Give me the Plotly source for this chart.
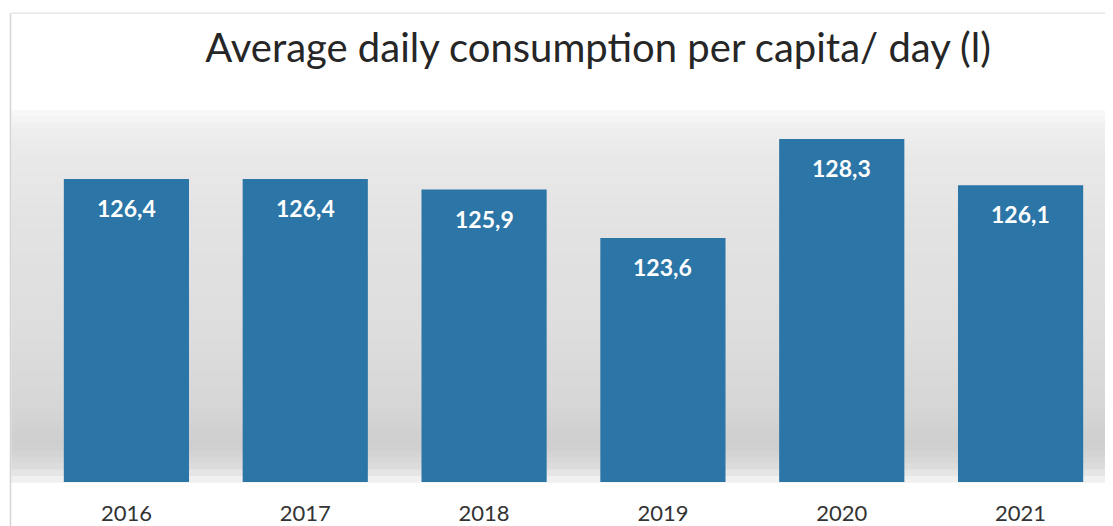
import plotly.graph_objects as go

years = ["2016", "2017", "2018", "2019", "2020", "2021"]
values = [126.4, 126.4, 125.9, 123.6, 128.3, 126.1]
labels = ["126,4", "126,4", "125,9", "123,6", "128,3", "126,1"]
title_text = "Average daily consumption per capita/ day (l)"

BAR_COLOR = "#2b75a7"

fig = go.Figure()
fig.add_trace(go.Bar(
    x=years, y=values, marker=dict(color=BAR_COLOR, line=dict(width=0)),
    hoverinfo="x+y", showlegend=False,
))

for i, (v, lab) in enumerate(zip(values, labels)):
    fig.add_annotation(x=i, y=v, text=lab, showarrow=False, yanchor="middle",
                       yshift=-29, font=dict(family="Lato", size=23, color="white", weight="bold"))

# background gradient bands (plot area)
stops = [(0.0, 250), (0.04, 240), (0.12, 233), (0.3, 227), (0.6, 221),
         (0.8, 214), (0.9, 206), (0.96, 220), (1.0, 245)]

def shade(t):
    for (a, ca), (b, cb) in zip(stops[:-1], stops[1:]):
        if a <= t <= b:
            f = (t - a) / (b - a) if b > a else 0
            return int(round(ca + (cb - ca) * f))
    return stops[-1][1]

n = 60
shapes = []
for i in range(n):
    y0 = 1 - i / n
    y1 = 1 - (i + 1) / n
    c = shade((i + 0.5) / n)
    shapes.append(dict(type="rect", xref="paper", yref="paper", x0=-0.024, x1=1.0,
                       y0=y1 - 0.002, y1=y0, fillcolor=f"rgb({c},{c},{c})",
                       line=dict(width=0), layer="below"))
# frame lines
shapes.append(dict(type="line", xref="paper", yref="paper", x0=-0.0247, x1=-0.0247,
                   y0=-0.12, y1=1.26, line=dict(color="#d4d4d4", width=1.5)))
shapes.append(dict(type="line", xref="paper", yref="paper", x0=-0.0247, x1=1.0,
                   y0=1.26, y1=1.26, line=dict(color="#e8e8e8", width=1.5)))

fig.update_layout(
    width=1105, height=518,
    margin=dict(l=28.5, r=2.5, t=102, b=44),
    paper_bgcolor="white", plot_bgcolor="rgba(0,0,0,0)",
    bargap=0.3,
    shapes=shapes,
    title=dict(text=title_text, x=0.534, xanchor="center", y=0.923, yanchor="middle",
               font=dict(family="Lato", size=40, color="#262626")),
    xaxis=dict(type="category", range=[-0.5, len(years) - 0.5], showgrid=False,
               showline=False, zeroline=False, ticks="", ticklabelstandoff=16,
               automargin=False,
               tickfont=dict(family="Lato", size=22, color="#333333")),
    yaxis=dict(range=[112, 129.68], visible=False, showgrid=False, zeroline=False,
               automargin=False),
)

fig.write_html("out.html")
